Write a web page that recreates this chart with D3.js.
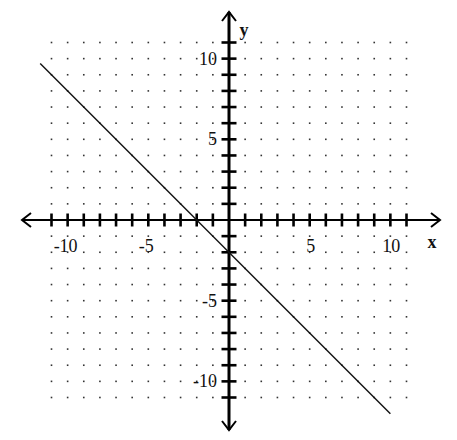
<!DOCTYPE html>
<html>
<head>
<meta charset="utf-8">
<script src="https://cdn.jsdelivr.net/npm/d3@7"></script>
<style>
  html, body { margin: 0; padding: 0; background: #fff; }
  svg text { font-family: "Liberation Serif", "Times New Roman", serif; fill: #111; }
</style>
</head>
<body>
<svg id="chart" width="457" height="440"></svg>
<script>
// data
const gridValues = [-11, -10, -9, -8, -7, -6, -5, -4, -3, -2, -1, 1, 2, 3, 4, 5, 6, 7, 8, 9, 10, 11];
const tickValues = [-11, -10, -9, -8, -7, -6, -5, -4, -3, -2, -1, 1, 2, 3, 4, 5, 6, 7, 8, 9, 10, 11];
const xLabels = [-10, -5, 5, 10];
const yLabels = [10, 5, -5, -10];
const lineX = [-11.7, 10];
const lineY = [9.7, -12];

const width = 457;
const height = 440;

// scales
const x = d3.scaleLinear().domain([-11, 11]).range([51.5, 406.5]);
const y = d3.scaleLinear().domain([-11, 11]).range([397.5, 42.5]);

const svg = d3.select("#chart");
const x0 = x(0), y0 = y(0);

// dotted grid
const pts = [];
gridValues.forEach(a => gridValues.forEach(b => pts.push([a, b])));
svg.append("g")
    .selectAll("rect")
    .data(pts)
    .enter()
    .append("rect")
    .attr("x", d => x(d[0]) - 0.8)
    .attr("y", d => y(d[1]) - 0.8)
    .attr("width", 1.6)
    .attr("height", 1.6)
    .attr("fill", "#333");

// axes
const axes = svg.append("g").attr("stroke", "#000").attr("fill", "none");
axes.append("line").attr("x1", 22).attr("x2", 440).attr("y1", y0).attr("y2", y0).attr("stroke-width", 2);
axes.append("line").attr("x1", x0).attr("x2", x0).attr("y1", 12).attr("y2", 430).attr("stroke-width", 3);

// arrow heads
const arrow = (pts) => axes.append("path").attr("d", d3.line()(pts)).attr("stroke-width", 2);
arrow([[31, y0 - 7], [22, y0], [31, y0 + 7]]);
arrow([[431, y0 - 7], [440, y0], [431, y0 + 7]]);
arrow([[x0 - 7, 21], [x0, 12], [x0 + 7, 21]]);
arrow([[x0 - 7, 421], [x0, 430], [x0 + 7, 421]]);

// tick marks
axes.append("g")
    .selectAll("line")
    .data(tickValues)
    .enter()
    .append("line")
    .attr("x1", d => x(d)).attr("x2", d => x(d))
    .attr("y1", y0 - 6.5).attr("y2", y0 + 6.5)
    .attr("stroke-width", 2.6);
axes.append("g")
    .selectAll("line")
    .data(tickValues)
    .enter()
    .append("line")
    .attr("y1", d => y(d)).attr("y2", d => y(d))
    .attr("x1", x0 - 7.5).attr("x2", x0 + 7.5)
    .attr("stroke-width", 2.6);

// tick labels
svg.append("g")
    .selectAll("text")
    .data(xLabels)
    .enter()
    .append("text")
    .attr("x", d => x(d) + (d < 0 ? -2 : 1))
    .attr("y", 252)
    .attr("text-anchor", "middle")
    .attr("font-size", 18)
    .text(d => d < 0 ? "-" + Math.abs(d) : d);
svg.append("g")
    .selectAll("text")
    .data(yLabels)
    .enter()
    .append("text")
    .attr("x", 217)
    .attr("y", d => y(d) + 6)
    .attr("text-anchor", "end")
    .attr("font-size", 18)
    .text(d => d < 0 ? "-" + Math.abs(d) : d);

// axis names
svg.append("text").attr("x", 432).attr("y", 248).attr("text-anchor", "middle")
    .attr("font-size", 18).attr("font-weight", "bold").text("x");
svg.append("text").attr("x", 244).attr("y", 36).attr("text-anchor", "middle")
    .attr("font-size", 18).attr("font-weight", "bold").text("y");

// the line
svg.append("path")
    .datum(lineX.map((d, i) => [d, lineY[i]]))
    .attr("d", d3.line().x(d => x(d[0])).y(d => y(d[1])))
    .attr("fill", "none")
    .attr("stroke", "#111")
    .attr("stroke-width", 1.4);
</script>
</body>
</html>
